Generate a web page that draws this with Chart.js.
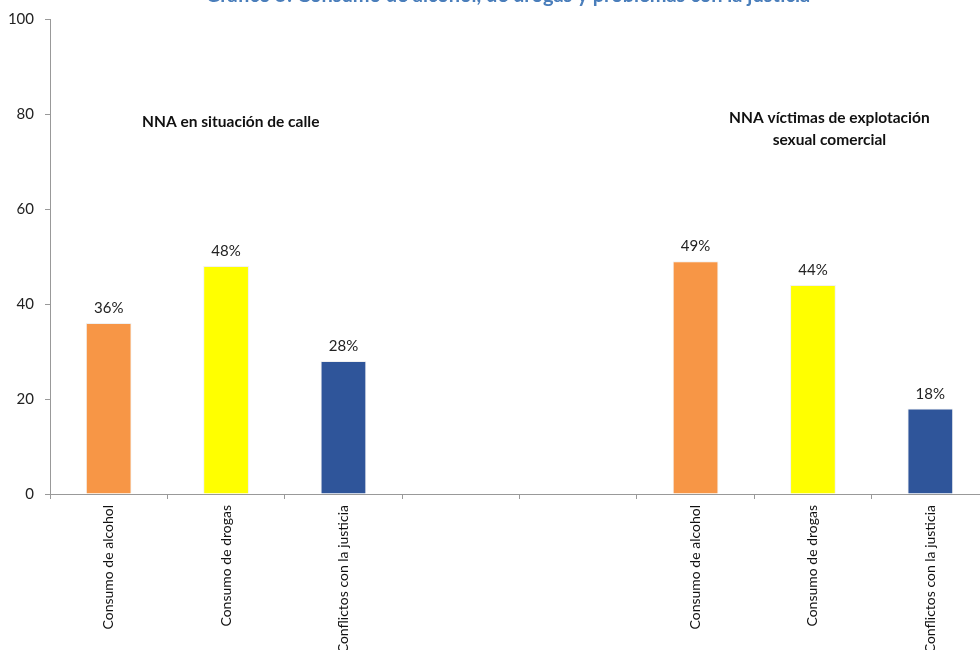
<!DOCTYPE html>
<html>
<head>
<meta charset="utf-8">
<script src="https://cdn.jsdelivr.net/npm/chart.js@4.4.0/dist/chart.umd.min.js"></script>
<style>
  html, body { margin: 0; padding: 0; background: #fff; overflow: hidden; width: 980px; height: 650px; }
  #wrap { position: absolute; left: 0; top: -16px; width: 989px; height: 700px; }
</style>
</head>
<body>
<div id="wrap"><canvas id="drugChart"></canvas></div>
<script>
const titleText = "Gráfico 5: Consumo de alcohol, de drogas y problemas con la justicia";
const categories = [
  "Consumo de alcohol", "Consumo de drogas", "Conflictos con la justicia",
  "", "",
  "Consumo de alcohol", "Consumo de drogas", "Conflictos con la justicia"
];
const values = [36, 48, 28, null, null, 49, 44, 18];
const barColors = ["#F79646", "#FFFF00", "#2F559A", "#fff", "#fff", "#F79646", "#FFFF00", "#2F559A"];
const yTicks = [0, 20, 40, 60, 80, 100];
const groupNotes = [
  { lines: ["NNA en situación de calle"], x: 1.04, y: 78.3 },
  { lines: ["NNA víctimas de explotación", "sexual comercial"], x: 6.14, y: 79.2 }
];

const FONT = "Lato, 'Open Sans', sans-serif";

// percent labels above bars + group captions
const labelPlugin = {
  id: "barLabels",
  afterLayout(chart) {
    // title box is a bit right of the canvas centre in the original
    if (chart.titleBlock) chart.titleBlock.left += 27;
  },
  afterDatasetsDraw(chart) {
    const c = chart.ctx;
    const meta = chart.getDatasetMeta(0);
    c.save();
    c.font = "15px " + FONT;
    c.fillStyle = "#222";
    c.textAlign = "center";
    c.textBaseline = "alphabetic";
    meta.data.forEach(function (bar, i) {
      if (values[i] == null) return;
      c.fillText(values[i] + "%", bar.x, bar.y - 10);
    });

    const xs = chart.scales.x;
    const ys = chart.scales.y;
    c.font = "bold 15.5px " + FONT;
    c.fillStyle = "#111";
    c.textBaseline = "middle";
    groupNotes.forEach(function (n) {
      const px = xs.getPixelForValue(n.x);
      const py = ys.getPixelForValue(n.y);
      n.lines.forEach(function (line, k) {
        c.fillText(line, px, py + k * 22);
      });
    });
    c.restore();
  }
};

const ctx = document.getElementById("drugChart");

var chart = new Chart(ctx, {
  type: "bar",
  data: {
    labels: categories,
    datasets: [
      {
        data: values,
        backgroundColor: barColors,
        borderColor: "rgba(0,0,0,0.06)",
        borderWidth: 1,
        barPercentage: 0.39,
        categoryPercentage: 1,
      },
    ],
  },
  options: {
    responsive: true,
    maintainAspectRatio: false,
    animation: false,
    layout: { padding: 0 },
    plugins: {
      legend: { display: false },
      tooltip: { enabled: false },
      title: {
        display: true,
        text: titleText,
        color: "#4A7EBB",
        font: { family: FONT, size: 20, weight: "bold" },
        padding: { top: 0, bottom: 11 },
      },
    },
    scales: {
      x: {
        offset: true,
        grid: {
          offset: true,
          drawOnChartArea: false,
          drawTicks: true,
          tickLength: 5,
          color: "#999",
        },
        border: { display: true, color: "#999" },
        ticks: {
          autoSkip: false,
          minRotation: 90,
          maxRotation: 90,
          padding: 6,
          color: "#111",
          font: { family: FONT, size: 14 },
        },
        afterFit(scale) {
          scale.height = 190;
        },
      },
      y: {
        min: 0,
        max: 100,
        afterBuildTicks(scale) {
          scale.ticks = yTicks.map(function (v) { return { value: v }; });
        },
        grid: {
          drawOnChartArea: false,
          drawTicks: true,
          tickLength: 5,
          color: "#999",
        },
        border: { display: true, color: "#999" },
        ticks: {
          padding: 11,
          color: "#222",
          font: { family: FONT, size: 15 },
        },
        afterFit(scale) {
          scale.width = 50;
        },
      },
    },
  },
  plugins: [labelPlugin],
});
</script>
</body>
</html>
